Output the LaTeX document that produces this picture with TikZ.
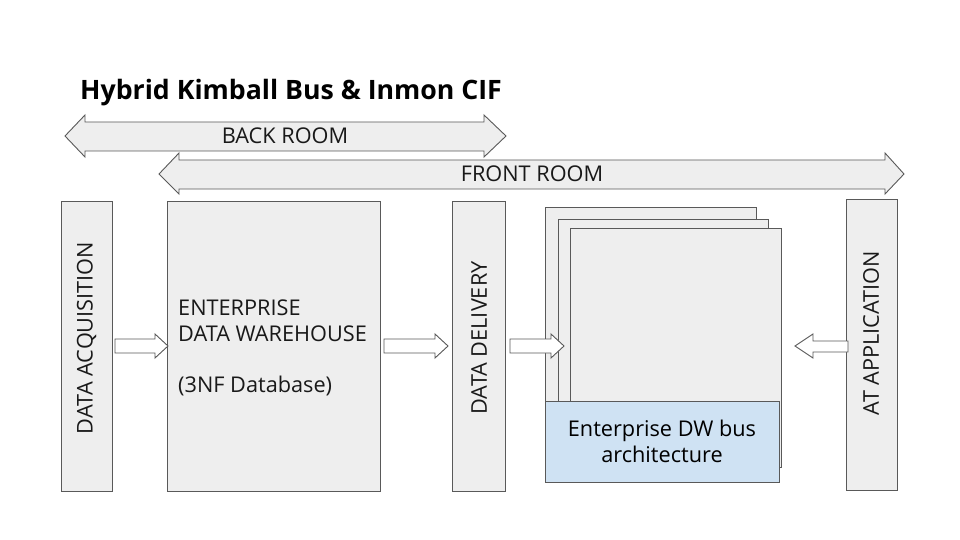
\documentclass[tikz,border=0pt]{standalone}
\usepackage{fontspec}
\setmainfont{Open Sans}
\definecolor{boxfill}{HTML}{EEEEEE}
\definecolor{lineclr}{HTML}{595959}
\definecolor{busfill}{HTML}{CFE2F3}
\begin{document}
\begin{tikzpicture}[x=1pt,y=-1pt,
  box/.style={draw=lineclr,fill=boxfill,line width=1pt,inner sep=0pt},
  busbox/.style={draw=lineclr,fill=busfill,line width=1pt,inner sep=0pt,align=center,font=\fontsize{21.7}{26}\selectfont},
  blockarrow/.style={draw=lineclr,line width=0.9pt},
  lbl/.style={font=\fontsize{21.7}{26}\selectfont,inner sep=0pt,text=black!90}]
\useasboundingbox (0,0) rectangle (960,540);
\fill[white] (0,0) rectangle (960,540);
% title
\node[anchor=base west,inner sep=0pt,font=\fontsize{26.7}{30}\selectfont\bfseries] (title) at (80,100) {Hybrid Kimball Bus \& Inmon CIF};
% back room
\draw[blockarrow,fill=boxfill] (65,136) -- (85,115) -- (85,122) -- (484,122) -- (484,115) -- (506,136) -- (484,157) -- (484,151) -- (85,151) -- (85,157) -- cycle;
\node[lbl] (back) at (285,136) {BACK ROOM};
% front room
\draw[blockarrow,fill=boxfill] (159,174) -- (179,153) -- (179,160) -- (885,160) -- (885,153) -- (904,174) -- (885,194) -- (885,189) -- (179,189) -- (179,194) -- cycle;
\node[lbl] (front) at (532,174) {FRONT ROOM};
% boxes
\node[box,minimum width=51,minimum height=290] (acq) at (86.5,346) {};
\node[lbl,rotate=90] (acqtxt) at (86.5,338) {DATA ACQUISITION};
\node[box,minimum width=213,minimum height=290] (edw) at (273.5,346) {};
\node[lbl,anchor=base west] (edw1) at (178,315) {ENTERPRISE};
\node[lbl,anchor=base west] (edw2) at (178,341) {DATA WAREHOUSE};
\node[lbl,anchor=base west] (edw3) at (178,392) {(3NF Database)};
\node[box,minimum width=53,minimum height=290] (del) at (478.5,346) {};
\node[lbl,rotate=90] (deltxt) at (479,338) {DATA DELIVERY};
% stacked data marts
\node[box,minimum width=211,minimum height=260] (dm1) at (650.5,337) {};
\node[box,minimum width=210,minimum height=248] (dm2) at (663,343) {};
\node[box,minimum width=211,minimum height=239] (dm3) at (675.5,347.5) {};
\node[busbox,minimum width=234,minimum height=81] (bus) at (662,441.5) {Enterprise DW bus\\architecture};
% AT application
\node[box,minimum width=51,minimum height=291] (at) at (871.5,344.5) {};
\node[lbl,rotate=90] (attxt) at (871,333) {AT APPLICATION};
% small block arrows
\draw[blockarrow,fill=white] (115,339) -- (155,339) -- (155,334) -- (168,346) -- (155,358) -- (155,353) -- (115,353) -- cycle;
\draw[blockarrow,fill=white] (384,339) -- (435,339) -- (435,334) -- (448,346) -- (435,358) -- (435,353) -- (384,353) -- cycle;
\draw[blockarrow,fill=white] (510,339) -- (551,339) -- (551,334) -- (564,346) -- (551,358) -- (551,353) -- (510,353) -- cycle;
\draw[blockarrow,fill=white] (848,341) -- (813,341) -- (813,334) -- (795,346) -- (813,358) -- (813,352) -- (848,352) -- cycle;
\end{tikzpicture}
\end{document}
